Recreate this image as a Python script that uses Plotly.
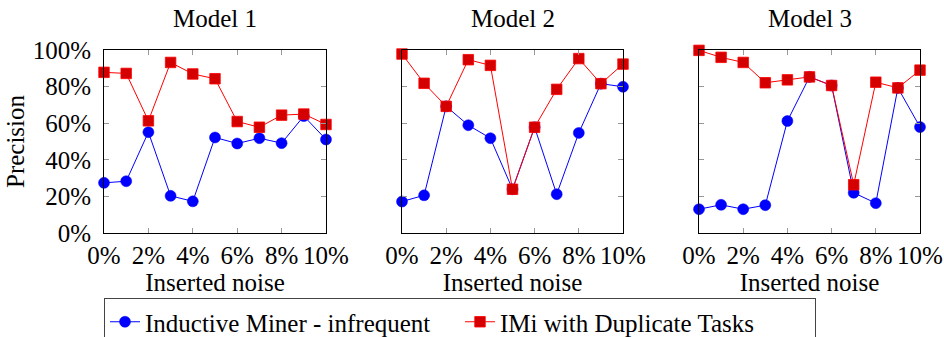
import plotly.graph_objects as go

noise = [0, 1, 2, 3, 4, 5, 6, 7, 8, 9, 10]
x_ticks = [0, 2, 4, 6, 8, 10]
y_ticks = [0, 20, 40, 60, 80, 100]
titles = ["Model 1", "Model 2", "Model 3"]
series_names = ["Inductive Miner - infrequent", "IMi with Duplicate Tasks"]

imi_m1 = [27.4, 28.3, 55.1, 20.3, 17.3, 52.2, 48.9, 51.8, 49.1, 63.9, 51.1]
dup_m1 = [87.8, 87.2, 61.3, 93.2, 86.9, 84.3, 60.9, 57.8, 64.4, 65.0, 59.3]
imi_m2 = [17.2, 20.6, 69.2, 58.9, 51.8, 23.9, 57.8, 21.2, 54.7, 81.6, 79.9]
dup_m2 = [97.8, 81.8, 69.2, 94.7, 91.6, 23.9, 57.8, 78.5, 95.3, 81.6, 92.3]
imi_m3 = [13.0, 15.4, 13.0, 15.2, 61.2, 85.3, 80.6, 22.0, 16.3, 79.3, 57.9]
dup_m3 = [99.8, 96.0, 93.2, 82.1, 83.7, 85.3, 80.6, 26.4, 82.4, 79.3, 89.0]

imi = [imi_m1, imi_m2, imi_m3]
dup = [dup_m1, dup_m2, dup_m3]

FONT = "'Liberation Serif', 'Times New Roman', serif"
FS = 25
W, H = 944, 337
x_dom_px = [(104, 326), (402, 623), (699, 920)]
y_top, y_bot = 50, 233

fig = go.Figure()
for i in range(3):
    xa = "x" if i == 0 else f"x{i+1}"
    ya = "y" if i == 0 else f"y{i+1}"
    fig.add_trace(go.Scatter(
        x=noise, y=imi[i], mode="lines+markers", name=series_names[0],
        line=dict(color="#0000ff", width=1),
        marker=dict(symbol="circle", size=11, color="#0000ff",
                    line=dict(color="#0000ff", width=0.5)),
        xaxis=xa, yaxis=ya, showlegend=(i == 0), cliponaxis=False))
    fig.add_trace(go.Scatter(
        x=noise, y=dup[i], mode="lines+markers", name=series_names[1],
        line=dict(color="#ff0000", width=1),
        marker=dict(symbol="square", size=10.5, color="#d40000",
                    line=dict(color="#ff0000", width=0.8)),
        xaxis=xa, yaxis=ya, showlegend=(i == 0), cliponaxis=False))

layout = dict(
    width=W, height=H,
    margin=dict(l=0, r=0, t=0, b=0, autoexpand=False),
    paper_bgcolor="white", plot_bgcolor="white",
    font=dict(family=FONT, size=FS, color="black"),
    showlegend=True,
    legend=dict(orientation="h", x=104 / W, y=1 - 298 / H,
                xanchor="left", yanchor="top",
                bordercolor="#444444", borderwidth=1,
                font=dict(family=FONT, size=FS),
                itemwidth=30, tracegroupgap=0,
                entrywidth=310, entrywidthmode="pixels"),
)
annotations = []
for i in range(3):
    xk = "xaxis" if i == 0 else f"xaxis{i+1}"
    yk = "yaxis" if i == 0 else f"yaxis{i+1}"
    x0, x1 = x_dom_px[i]
    layout[xk] = dict(
        domain=[x0 / W, x1 / W], range=[0, 10], automargin=False,
        anchor="y" if i == 0 else f"y{i+1}",
        tickvals=x_ticks, ticktext=[f"{v}%" for v in x_ticks],
        ticks="inside", ticklen=5, tickcolor="#999999", tickwidth=1,
        showline=True, linecolor="black", linewidth=1, mirror="ticks",
        showgrid=False, zeroline=False, ticklabelstandoff=0,
        tickfont=dict(family=FONT, size=FS),
        title=dict(text="Inserted noise", font=dict(family=FONT, size=FS), standoff=0),
    )
    layout[yk] = dict(
        domain=[1 - y_bot / H, 1 - y_top / H], range=[0, 100], automargin=False,
        anchor="x" if i == 0 else f"x{i+1}",
        tickvals=y_ticks, ticktext=[f"{v}%" for v in y_ticks],
        showticklabels=(i == 0), ticklabelstandoff=7,
        ticks="inside", ticklen=5, tickcolor="#999999", tickwidth=1,
        showline=True, linecolor="black", linewidth=1, mirror="ticks",
        showgrid=False, zeroline=False,
        tickfont=dict(family=FONT, size=FS),
    )
    if i == 0:
        layout[yk]["title"] = dict(text="Precision", font=dict(family=FONT, size=FS), standoff=0)
    annotations.append(dict(
        text=titles[i], x=(x0 + x1) / 2 / W, y=1 - 19 / H,
        xref="paper", yref="paper", xanchor="center", yanchor="middle",
        showarrow=False, font=dict(family=FONT, size=FS)))
layout["annotations"] = annotations
fig.update_layout(**layout)
fig.write_html("out.html", config={"displayModeBar": False})

with open("out.html", "r", encoding="utf-8") as f:
    html = f.read()
html = html.replace("<head>", "<head><style>html,body{margin:0;padding:0;overflow:hidden;}</style>", 1)
with open("out.html", "w", encoding="utf-8") as f:
    f.write(html)
